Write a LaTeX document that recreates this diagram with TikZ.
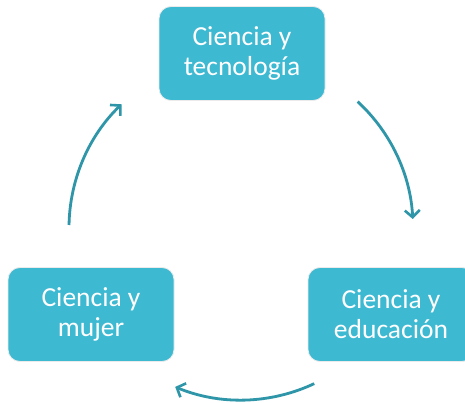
\documentclass[tikz,border=0pt]{standalone}
\usepackage{fontspec}
\setmainfont{Carlito}
\usetikzlibrary{arrows.meta,calc}
\definecolor{boxteal}{RGB}{62,185,210}
\definecolor{arrteal}{RGB}{46,150,168}
\tikzset{
  cyclebox/.style={rectangle, rounded corners=12pt, fill=boxteal, draw=black!8, line width=0.8pt,
    minimum width=166pt, minimum height=94pt, align=center, text=white,
    font=\fontsize{27.5}{30}\selectfont, inner sep=0pt},
  cyclearrow/.style={draw=arrteal, line width=2.8pt,
    -{Straight Barb[length=7pt,width=15pt,line width=2.6pt]}}
}
\begin{document}
\begin{tikzpicture}[x=1pt,y=1pt]
\useasboundingbox (0,0) rectangle (465,402);
\clip (0,0) rectangle (465,402);
\fill[white] (0,0) rectangle (465,402);
\node[cyclebox] (tec) at (242,348.5) {Ciencia y\\tecnología};
\node[cyclebox] (edu) at (391,87.5) {Ciencia y\\educación};
\node[cyclebox] (muj) at (91,87.5) {Ciencia y\\mujer};
\coordinate (ctr) at (241,174);
\coordinate (s1) at ($(ctr)+(47.3:172)$);
\coordinate (s2) at ($(ctr)+(-64.8:172)$);
\coordinate (s3) at ($(ctr)+(179:172)$);
\draw[cyclearrow] (s1) arc[start angle=47.3, end angle=3, radius=172];
\draw[cyclearrow] (s2) arc[start angle=-64.8, end angle=-112.5, radius=172];
\draw[cyclearrow] (s3) arc[start angle=179, end angle=134, radius=172];
\end{tikzpicture}
\end{document}
